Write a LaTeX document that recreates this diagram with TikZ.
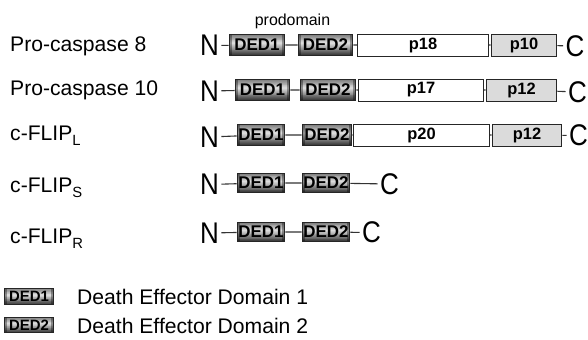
\documentclass[tikz,border=0pt]{standalone}
\usepackage{fontspec}
\usetikzlibrary{calc}
\setmainfont{Liberation Sans}
\newfontfamily\termfont[FakeStretch=0.87]{Liberation Sans}
% metallic grey bar: stacked horizontal slices, light just above the middle,
% dark towards the bottom, with darker side bands
\tikzset{metal/.style={path picture={
  \foreach \i in {0,...,23}{
    \pgfmathsetmacro\f{\i/23}
    \pgfmathsetmacro\p{\f<0.42 ? 52-40*\f/0.42 : 12+68*(\f-0.42)/0.58}
    \fill[black!\p]
      ($(path picture bounding box.north west)!{\i/24}!(path picture bounding box.south west)$)
      rectangle
      ($(path picture bounding box.north east)!{(\i+1.2)/24}!(path picture bounding box.south east)$);
  }
  \fill[black,opacity=0.35] (path picture bounding box.north west) rectangle
    ([xshift=3bp]path picture bounding box.south west);
  \fill[black,opacity=0.35] (path picture bounding box.north east) rectangle
    ([xshift=-3bp]path picture bounding box.south east);
}}}
\begin{document}
\begin{tikzpicture}[x=1bp,y=-1bp,
  lbl/.style={anchor=base west,inner sep=0,font=\fontsize{21.2}{24}\selectfont},
  term/.style={inner sep=0,outer xsep=2.5bp,font=\termfont\fontsize{30}{30}\selectfont},
  dedbox/.style={draw=black!85,line width=1bp,inner sep=0,metal,
    font=\bfseries\fontsize{17}{18}\selectfont},
  cat/.style={draw=black!85,line width=0.9bp,inner sep=0,fill=white,
    font=\bfseries\fontsize{16.5}{18}\selectfont},
  small/.style={draw=black!85,line width=0.9bp,inner sep=0,fill=black!14,
    font=\bfseries\fontsize{16.5}{18}\selectfont},
  link/.style={draw=black!80,line width=1.1bp},
  legbox/.style={dedbox,font=\bfseries\fontsize{15}{16}\selectfont}]
\useasboundingbox (0,0) rectangle (588,339);

% protein names
\node[lbl] (l1) at (10,51) {Pro-caspase 8};
\node[lbl] (l2) at (10,95.5) {Pro-caspase 10};
\node[lbl] (l3) at (10,140) {c-FLIP\textsubscript{\raisebox{-0.35ex}{L}}};
\node[lbl] (l4) at (10,192) {c-FLIP\textsubscript{\raisebox{-0.35ex}{S}}};
\node[lbl] (l5) at (10,243) {c-FLIP\textsubscript{\raisebox{-0.35ex}{R}}};

\node[anchor=base,inner sep=0,font=\fontsize{16}{18}\selectfont] (pd) at (292.5,25) {prodomain};

% Pro-caspase 8
\node[term] (n1) at (209.5,45.5) {N};
\node[dedbox,minimum width=56,minimum height=22] (a1) at (257,45) {DED1};
\node[dedbox,minimum width=55,minimum height=22] (b1) at (325.5,45) {DED2};
\node[cat,minimum width=132,minimum height=22] (c1) at (423,45) {p18};
\node[small,minimum width=66,minimum height=22] (s1) at (524,45) {p10};
\node[term] (e1) at (575,46) {C};
\draw[link] (n1) -- (a1) -- (b1) -- (c1) -- (s1) -- (e1);

% Pro-caspase 10
\node[term] (n2) at (209.5,91) {N};
\node[dedbox,minimum width=55,minimum height=22] (a2) at (262.5,90) {DED1};
\node[dedbox,minimum width=56,minimum height=22] (b2) at (328,90) {DED2};
\node[cat,minimum width=126,minimum height=22] (c2) at (421,90) {p17};
\node[small,minimum width=71,minimum height=22] (s2) at (521.5,90) {p12};
\node[term] (e2) at (577.5,92) {C};
\draw[link] (n2) -- (a2) -- (b2) -- (c2) -- (s2) -- (e2);

% c-FLIP L
\node[term] (n3) at (209.5,137) {N};
\node[dedbox,minimum width=48,minimum height=22] (a3) at (261,135) {DED1};
\node[dedbox,minimum width=50,minimum height=22] (b3) at (327,135) {DED2};
\node[cat,minimum width=137,minimum height=22] (c3) at (421.5,135) {p20};
\node[small,minimum width=70,minimum height=22] (s3) at (527,135) {p12};
\node[term] (e3) at (578.5,135.5) {C};
\draw[link] (n3) -- (a3) -- (b3) -- (c3) -- (s3) -- (e3);

% c-FLIP S
\node[term] (n4) at (209.5,184.5) {N};
\node[dedbox,minimum width=48,minimum height=20] (a4) at (261,183) {DED1};
\node[dedbox,minimum width=48,minimum height=20] (b4) at (326,183) {DED2};
\node[term] (e4) at (389.5,184) {C};
\draw[link] (n4) -- (a4) -- (b4) -- (e4);

% c-FLIP R
\node[term] (n5) at (209.5,233) {N};
\node[dedbox,minimum width=48,minimum height=20] (a5) at (261,232) {DED1};
\node[dedbox,minimum width=48,minimum height=20] (b5) at (326,232) {DED2};
\node[term] (e5) at (371.5,232.5) {C};
\draw[link] (n5) -- (a5) -- (b5) -- (e5);

% legend
\node[legbox,minimum width=50,minimum height=17] (k1) at (29,296.5) {DED1};
\node[legbox,minimum width=50,minimum height=16] (k2) at (29,325) {DED2};
\node[lbl] (t1) at (77,304) {Death Effector Domain 1};
\node[lbl] (t2) at (77,333) {Death Effector Domain 2};
\end{tikzpicture}
\end{document}
